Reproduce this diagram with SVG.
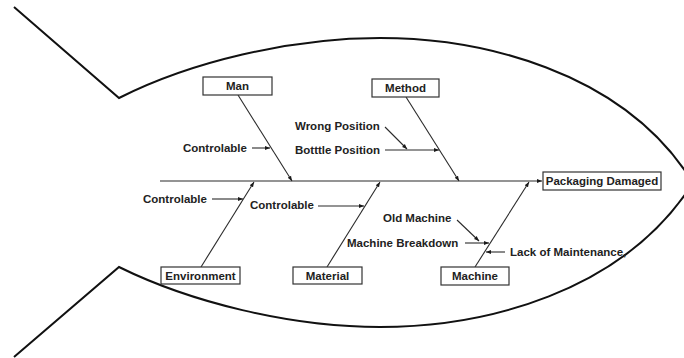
<svg xmlns="http://www.w3.org/2000/svg" width="684" height="358" viewBox="0 0 684 358">
<defs>
<marker id="ah" viewBox="0 0 10 10" refX="10" refY="5" markerWidth="5" markerHeight="5" orient="auto" markerUnits="userSpaceOnUse">
<path d="M0,1 L10,5 L0,9 Z" fill="#1a1a1a"/>
</marker>
<style>
.fish{fill:none;stroke:#111;stroke-width:2}
.ln{fill:none;stroke:#2a2a2a;stroke-width:1.1}
.box{fill:#fff;stroke:#333;stroke-width:1.2}
text{font-family:"Liberation Sans",Arial,sans-serif;font-weight:bold;font-size:11.5px;fill:#222}
.c{text-anchor:middle}
</style>
</defs>
<rect width="684" height="358" fill="#fff"/>
<g id="fish">
<path class="fish" d="M14,7 L119,98 C190,62 290,38 380,38 C480,38 620,70 690,178"/>
<path class="fish" d="M14,357 L119,267 C190,302 290,327 380,327 C480,327 625,295 696,178"/>
</g>
<g id="connectors">
<line class="ln" x1="160" y1="181" x2="542" y2="181" marker-end="url(#ah)"/>
<line class="ln" x1="238" y1="95" x2="292" y2="181" marker-end="url(#ah)"/>
<line class="ln" x1="406" y1="97" x2="459" y2="181" marker-end="url(#ah)"/>
<line class="ln" x1="201" y1="267" x2="254" y2="182" marker-end="url(#ah)"/>
<line class="ln" x1="327" y1="267" x2="380" y2="182" marker-end="url(#ah)"/>
<line class="ln" x1="475" y1="267" x2="529" y2="182" marker-end="url(#ah)"/>
<line class="ln" x1="252" y1="148" x2="270" y2="148" marker-end="url(#ah)"/>
<line class="ln" x1="385" y1="127" x2="407" y2="149" marker-end="url(#ah)"/>
<line class="ln" x1="385" y1="150" x2="439" y2="150" marker-end="url(#ah)"/>
<line class="ln" x1="212" y1="199" x2="243" y2="199" marker-end="url(#ah)"/>
<line class="ln" x1="318" y1="206" x2="364" y2="206" marker-end="url(#ah)"/>
<line class="ln" x1="457" y1="220" x2="479" y2="241" marker-end="url(#ah)"/>
<line class="ln" x1="465" y1="243" x2="489" y2="243" marker-end="url(#ah)"/>
<line class="ln" x1="505" y1="252" x2="486" y2="252" marker-end="url(#ah)"/>
</g>
<g id="man"><rect class="box" x="203" y="77" width="69" height="18"/><text class="c" x="237.5" y="90">Man</text></g>
<g id="method"><rect class="box" x="372" y="79" width="67" height="18"/><text class="c" x="405.5" y="92">Method</text></g>
<g id="environment"><rect class="box" x="161" y="267" width="79" height="17"/><text class="c" x="200.5" y="280">Environment</text></g>
<g id="material"><rect class="box" x="293" y="267" width="69" height="17"/><text class="c" x="327.5" y="280">Material</text></g>
<g id="machine"><rect class="box" x="441" y="267" width="68" height="18"/><text class="c" x="475" y="280">Machine</text></g>
<g id="effect"><rect class="box" x="543" y="172" width="118" height="18"/><text class="c" x="602" y="185">Packaging Damaged</text></g>
<g id="labels">
<text x="183" y="152">Controlable</text>
<text x="295" y="130">Wrong Position</text>
<text x="295" y="154">Botttle Position</text>
<text x="143" y="203">Controlable</text>
<text x="250" y="209">Controlable</text>
<text x="383" y="222">Old Machine</text>
<text x="347" y="247">Machine Breakdown</text>
<text x="510" y="256">Lack of Maintenance,</text>
</g>
</svg>
